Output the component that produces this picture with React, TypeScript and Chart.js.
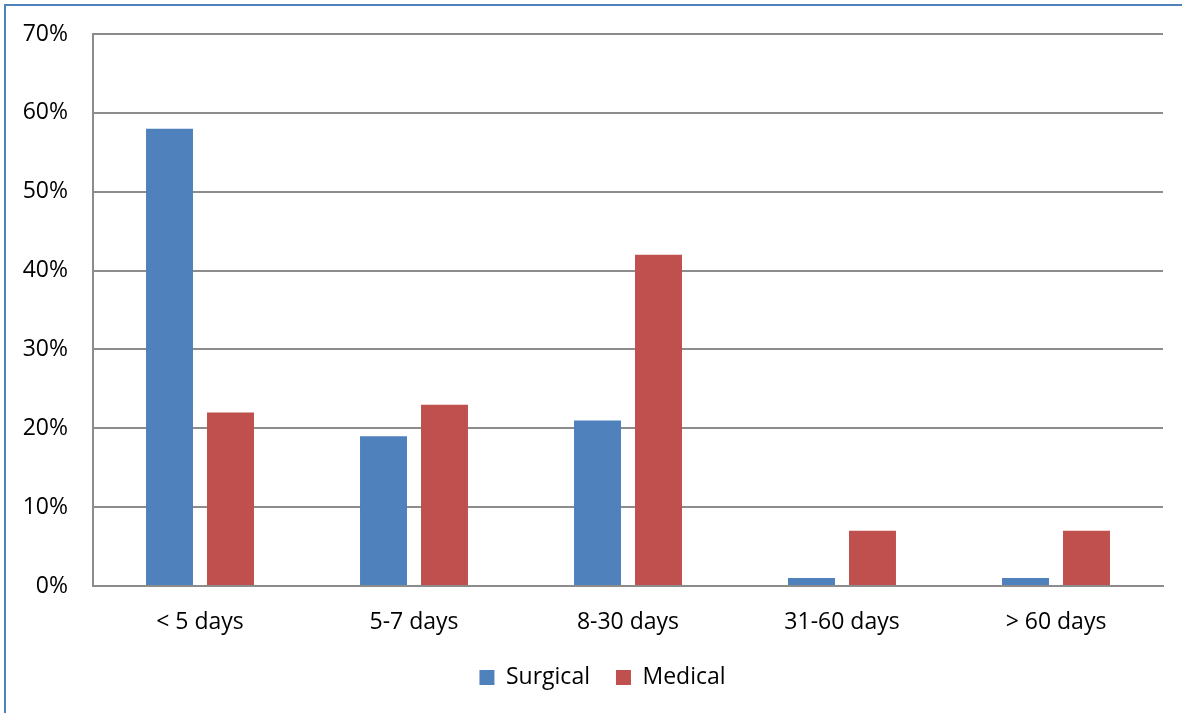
import React, { useEffect, useRef } from "react";
import { Chart, registerables } from "chart.js";

Chart.register(...registerables);

const categories = ["< 5 days", "5-7 days", "8-30 days", "31-60 days", "> 60 days"];
const surgical = [58, 19, 21, 1, 1];
const medical = [22, 23, 42, 7, 7];
const yTicks = [0, 10, 20, 30, 40, 50, 60, 70];

const FONT = "'Open Sans', 'Noto Sans', sans-serif";
const GRID = "#8c8c8c";
const LEGEND_SHIFT = 21;

const legendShift = {
  id: "legendShift",
  afterLayout(chart: any) {
    const lg = chart.legend;
    if (!lg) return;
    lg.left += LEGEND_SHIFT;
    lg.right += LEGEND_SHIFT;
  },
};

export default function App() {
  const ref = useRef<HTMLCanvasElement | null>(null);

  useEffect(() => {
    if (!ref.current) return;
    const chart = new Chart(ref.current, {
      type: "bar",
      data: {
        labels: categories,
        datasets: [
          {
            label: "Surgical",
            data: surgical,
            backgroundColor: "#4F81BD",
            borderWidth: 0,
            categoryPercentage: 0.57,
            barPercentage: 0.77,
          },
          {
            label: "Medical",
            data: medical,
            backgroundColor: "#C0504D",
            borderWidth: 0,
            categoryPercentage: 0.57,
            barPercentage: 0.77,
          },
        ],
      },
      plugins: [legendShift],
      options: {
        animation: false,
        responsive: false,
        maintainAspectRatio: false,
        layout: { padding: { top: 34, right: 19, left: 0, bottom: 14 } },
        plugins: {
          tooltip: { enabled: false },
          legend: {
            position: "bottom",
            labels: {
              font: { family: FONT, size: 23 },
              color: "#000",
              boxWidth: 15,
              boxHeight: 15,
              padding: 26,
            },
          },
        },
        scales: {
          x: {
            grid: { display: false, drawTicks: false },
            border: { display: true, color: GRID, width: 2 },
            ticks: {
              font: { family: FONT, size: 23 },
              color: "#000",
              padding: 23,
              maxRotation: 0,
            },
            afterFit: (scale: any) => {
              scale.height = 54;
              scale.paddingLeft = 0;
              scale.paddingRight = 0;
            },
          },
          y: {
            min: 0,
            max: 70,
            afterBuildTicks: (scale: any) => {
              scale.ticks = yTicks.map((v) => ({ value: v }));
            },
            grid: { color: GRID, lineWidth: 2, drawTicks: false },
            border: { display: true, color: GRID, width: 2 },
            ticks: {
              font: { family: FONT, size: 23 },
              color: "#000",
              padding: 25,
              callback: (v: any) => v + "%",
            },
            afterFit: (scale: any) => {
              scale.width = 93;
              scale.paddingTop = 0;
              scale.paddingBottom = 0;
            },
          },
        },
      },
    });
    return () => chart.destroy();
  }, []);

  return (
    <div style={{ position: "absolute", left: 0, top: 0, width: 1182, height: 713, background: "#fff", overflow: "hidden" }}>
      <div
        style={{
          position: "absolute",
          left: 4,
          top: 4,
          width: 1300,
          height: 800,
          borderLeft: "2px solid #4F81BD",
          borderTop: "2px solid #4F81BD",
        }}
      />
      <canvas ref={ref} width={1182} height={713} style={{ position: "absolute", left: 0, top: 0 }} />
    </div>
  );
}
